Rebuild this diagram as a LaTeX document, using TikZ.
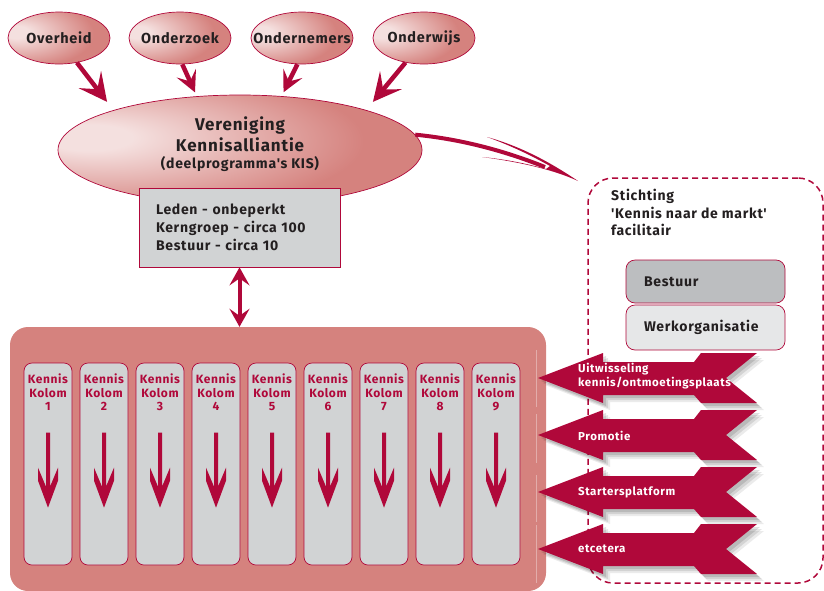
\documentclass[tikz,border=0pt]{standalone}
\usepackage{fontspec}
\newfontfamily\kisfont{Fira Sans}[LetterSpace=5]
\usetikzlibrary{arrows.meta,shapes.geometric,calc}

\definecolor{kisrood}{RGB}{176,8,58}
\definecolor{kisroze}{RGB}{213,130,126}
\definecolor{kisgrijs}{RGB}{188,190,192}
\definecolor{kislicht}{RGB}{209,211,212}
\definecolor{kiswit}{RGB}{230,231,232}
\definecolor{kistekst}{RGB}{35,31,32}
\colorlet{kisglans}{white!75!kisroze}

% bol met glans links en grijze rand rechts
\pgfdeclareradialshading{kisbol}{\pgfpoint{-22bp}{6bp}}{color(0bp)=(kisglans); color(6bp)=(kisglans); color(32bp)=(kisroze); color(59bp)=(kisroze); color(66bp)=(kisgrijs); color(100bp)=(kisgrijs)}

\begin{document}
\begin{tikzpicture}[x=1pt,y=-1pt,
    every node/.style={font=\kisfont\bfseries, text=kistekst},
    bol/.style={ellipse, draw=kisrood, line width=0.7pt, shade, shading=kisbol, inner sep=0pt},
    partner/.style={bol, inner xsep=-18pt, minimum width=102, minimum height=52, font=\kisfont\bfseries\fontsize{14.5}{16}\selectfont},
    grijsvak/.style={rectangle, draw=kisrood, line width=0.7pt, inner sep=0pt, align=left},
    kolom/.style={rectangle, rounded corners=8pt, fill=kislicht, draw=kisrood, line width=0.7pt, minimum width=48, minimum height=202},
    kolomtekst/.style={font=\kisfont\bfseries\fontsize{12}{13.5}\selectfont, text=kisrood, align=center, inner sep=0pt},
    pijltekst/.style={font=\kisfont\bfseries\fontsize{11.5}{14}\selectfont, text=white, align=left, inner sep=0pt, anchor=west},
    kispijl/.style={draw=kisrood, line width=4.5pt, -{Stealth[length=21pt,width=21pt,inset=9pt]}},
  ]
  \useasboundingbox (0,0) rectangle (824,590);

  % bovenste partners
  \node[partner] (overheid) at (59,38) {Overheid};
  \node[partner] (onderzoek) at (180,38) {Onderzoek};
  \node[partner] (ondernemers) at (302,38) {Ondernemers};
  \node[partner] (onderwijs) at (424,38) {Onderwijs};

  % vereniging
  \node[bol, minimum width=364, minimum height=110] (vka) at (240,150) {};
  \node[align=center, inner sep=0pt, font=\kisfont\bfseries\fontsize{17}{21}\selectfont] (vkatekst) at (240,144)
    {Vereniging\\Kennisalliantie\\[-4pt]{\fontsize{14}{17}\selectfont (deelprogramma's KIS)}};
  \node[grijsvak, fill=kislicht, minimum width=201, minimum height=79, text width=167, font=\kisfont\bfseries\fontsize{14}{18}\selectfont] (leden) at (239.5,227.5)
    {Leden - onbeperkt\\Kerngroep - circa 100\\Bestuur - circa 10};

  \draw[kispijl, -{Stealth[length=28pt,width=28pt,inset=12pt]}] (overheid.-54) -- ([shift={(-4,-9)}]vka.north west);
  \draw[kispijl] (onderzoek.-85) -- ([yshift=4pt]vka.130);
  \draw[kispijl] (ondernemers.-100) -- ([yshift=4pt]vka.51);
  \draw[kispijl, -{Stealth[length=28pt,width=28pt,inset=12pt]}] (onderwijs.-127) -- ([shift={(4,-9)}]vka.north east);

  % stichting
  \node[rectangle, rounded corners=25pt, draw=kisrood, line width=1.5pt, dash pattern=on 6pt off 4pt, minimum width=235, minimum height=405] (stichting) at (705.5,380.5) {};
  \node[anchor=north west, align=left, inner sep=0pt, font=\kisfont\bfseries\fontsize{14}{17.5}\selectfont] (stichtingtekst) at (611,189)
    {Stichting\\'Kennis naar de markt'\\facilitair};
  \node[grijsvak, rounded corners=9pt, fill=kisgrijs, minimum width=159, minimum height=43, text width=123, font=\kisfont\bfseries\fontsize{14}{16}\selectfont] (bestuur) at (705.5,281.5) {Bestuur};
  \node[grijsvak, rounded corners=9pt, fill=kiswit, minimum width=159, minimum height=45, text width=123, font=\kisfont\bfseries\fontsize{14}{16}\selectfont] (werkorg) at (705.5,327.5) {Werkorganisatie};

  % zwaai naar de stichting
  \coordinate (zwaaipunt) at (545,167);
  \draw[kisrood, line width=4pt] (vka.5) .. controls (470,140) and (515,155) .. (zwaaipunt);
  \fill[kisrood] (578,181) .. controls (550,162) and (520,146) .. (487,137)
    .. controls (512,146) and (532,156) .. (550,166) -- (546,169)
    .. controls (525,163) and (503,159) .. (482,157)
    .. controls (512,161) and (550,168) .. cycle;

  % kennis kolommen
  \node[rectangle, rounded corners=18pt, fill=kisroze, minimum width=536, minimum height=264, inner sep=0pt] (paneel) at (278,459) {};
  \draw[kisrood, line width=4pt, {Stealth[length=18pt,width=20pt,inset=7pt]}-{Stealth[length=18pt,width=20pt,inset=7pt]}]
    (leden.south) -- (leden.south |- paneel.north);
  \foreach \y/\z in {350/407, 414/463, 475/522, 525/583}
    \draw[white, opacity=0.35, line width=0.6pt] (536,\y) -- (536,\z);
  \foreach \i in {1,...,9}{
    \node[kolom] (kolom\i) at ({48+56*(\i-1)},464) {};
    \node[kolomtekst, anchor=north] (kolomtekst\i) at ([yshift=-11pt]kolom\i.north) {Kennis\\Kolom\\\i};
    \begin{scope}[shift={(kolom\i.north)}]
      \fill[kisrood] (-2,70) -- (-2,124) -- (-10,105) -- (-10,118) -- (0,145) -- (10,118) -- (10,105) -- (2,124) -- (2,70) -- cycle;
    \end{scope}
  }

  % diensten
  \foreach \c in {378,435,492,549}{
    \foreach \s/\o/\kl in {7/0.08/black, 5/0.1/black, 3/0.12/black, 0/1/kisrood}
      \fill[\kl, opacity=\o, shift={(\s,\s)}] (538,\c) -- (603,\c-25) -- (603,\c-16) -- (694,\c-16) -- (701,\c-25) -- (757,\c-25)
        -- (726,\c) -- (757,\c+25) -- (701,\c+25) -- (694,\c+17) -- (603,\c+17) -- (603,\c+25) -- cycle;
  }
  \node[pijltekst] (dienst1) at (578,376) {Uitwisseling\\kennis/ontmoetingsplaats};
  \node[pijltekst] (dienst2) at (578,436) {Promotie};
  \node[pijltekst] (dienst3) at (578,492) {Startersplatform};
  \node[pijltekst] (dienst4) at (578,549) {etcetera};
\end{tikzpicture}
\end{document}
